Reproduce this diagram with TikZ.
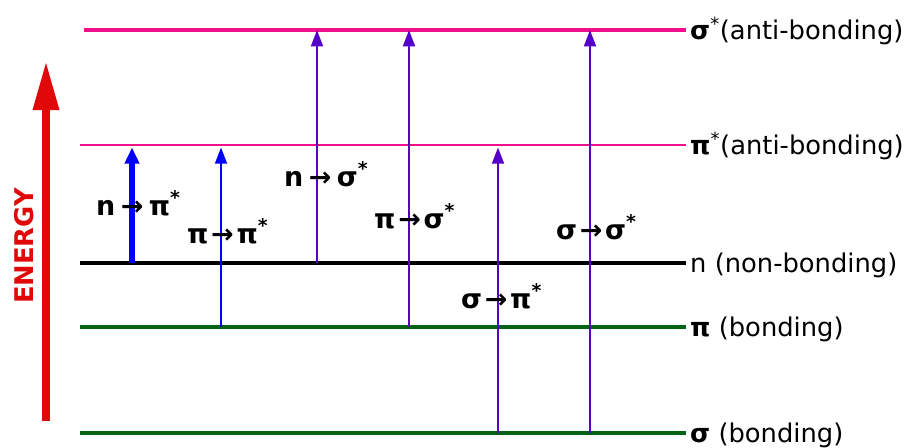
\documentclass[tikz,border=0pt]{standalone}
\usepackage{fontspec}
\setmainfont{DejaVu Sans}
\usetikzlibrary{arrows.meta}
\definecolor{lvpink}{RGB}{240,16,140}
\definecolor{lvgreen}{RGB}{0,100,20}
\definecolor{trblue}{RGB}{0,0,255}
\definecolor{trpurple}{RGB}{84,0,200}
\definecolor{enred}{RGB}{224,8,8}

\begin{document}
\begin{tikzpicture}[x=0.03cm,y=-0.03cm,
  lvlabel/.style={anchor=base west,inner sep=0pt,font=\fontsize{22}{24}\selectfont},
  trlabel/.style={anchor=base west,inner sep=0pt,font=\fontsize{23}{26}\selectfont\bfseries},
  trans/.style={line width=2.3pt,-{Triangle[length=14pt,width=10pt]}}]
\path[use as bounding box] (0,0) rectangle (909,447);
% energy levels
\coordinate (sgsL) at (84,30);  \coordinate (sgsR) at (686,30);
\coordinate (pisL) at (80,145); \coordinate (pisR) at (686,145);
\coordinate (nL) at (80,263);   \coordinate (nR) at (686,263);
\coordinate (piL) at (80,327);  \coordinate (piR) at (686,327);
\coordinate (sgL) at (80,433);  \coordinate (sgR) at (686,433);
\draw[lvpink,line width=2.7pt] (sgsL) -- (sgsR);
\draw[lvpink,line width=2.5pt] (pisL) -- (pisR);
\draw[black,line width=2.7pt] (nL) -- (nR);
\draw[lvgreen,line width=3.6pt] (piL) -- (piR);
\draw[lvgreen,line width=4.2pt] (sgL) -- (sgR);
\node[lvlabel] (sgsT) at (690,39) {{\bfseries σ}\textsuperscript{*}(anti-bonding)};
\node[lvlabel] (pisT) at (690,154) {{\bfseries π}\textsuperscript{*}(anti-bonding)};
\node[lvlabel] (nT) at (690,272) {n (non-bonding)};
\node[lvlabel] (piT) at (690,336) {{\bfseries π} (bonding)};
\node[lvlabel] (sgT) at (690,442) {{\bfseries σ} (bonding)};
% energy axis
\coordinate (eB) at (46,421);
\coordinate (eT) at (46,61);
\draw[enred,line width=6.8pt,-{Triangle[length=42pt,width=21pt]}] (eB) -- (eT);
\node[rotate=90,text=enred,font=\fontsize{22}{24}\selectfont\bfseries] (energy) at (24,246) {ENERGY};
% transitions
\coordinate (tA) at (132,0);
\coordinate (tB) at (221,0);
\coordinate (tC) at (317,0);
\coordinate (tD) at (409,0);
\coordinate (tE) at (498,0);
\coordinate (tF) at (590,0);
\draw[trans,trblue,line width=4.4pt,-{Triangle[length=14pt,width=12pt]}] (tA |- nR) -- ([yshift=-2pt]tA |- pisR);
\draw[trans,trblue] (tB |- piR) -- ([yshift=-2pt]tB |- pisR);
\draw[trans,trpurple] (tC |- nR) -- (tC |- sgsR);
\draw[trans,trpurple] (tD |- piR) -- (tD |- sgsR);
\draw[trans,trpurple] (tE |- sgR) -- ([yshift=-2pt]tE |- pisR);
\draw[trans,trpurple] (tF |- sgR) -- (tF |- sgsR);
\node[trlabel] (lA) at (96,215) {n\hspace{0.2em}→\hspace{0.2em}π\textsuperscript{*}};
\node[trlabel] (lB) at (187,243) {π\hspace{0.1em}→\hspace{0.1em}π\textsuperscript{*}};
\node[trlabel] (lC) at (284,186) {n\hspace{0.2em}→\hspace{0.2em}σ\textsuperscript{*}};
\node[trlabel] (lD) at (374,228) {π\hspace{0.1em}→\hspace{0.1em}σ\textsuperscript{*}};
\node[trlabel] (lE) at (461,308) {σ\hspace{0.1em}→\hspace{0.1em}π\textsuperscript{*}};
\node[trlabel] (lF) at (556,239) {σ\hspace{0.1em}→\hspace{0.1em}σ\textsuperscript{*}};
\end{tikzpicture}
\end{document}
